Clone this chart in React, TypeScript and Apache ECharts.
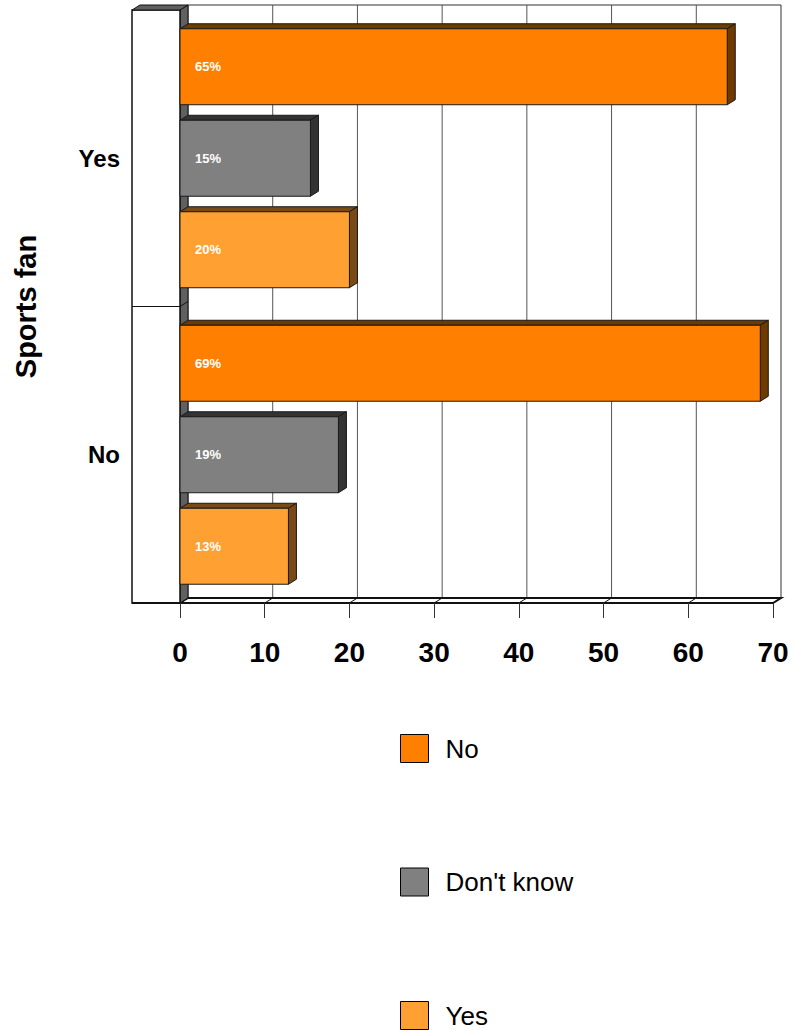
import React, { useEffect, useRef } from "react";
import * as echarts from "echarts";

// ---- data ----
const categories = ["Yes", "No"]; // Sports fan
const seriesNames = ["No", "Don't know", "Yes"];
const noValues = [64.6, 68.5];
const dontKnowValues = [15.4, 18.7];
const yesValues = [20.0, 12.8];
const xTickValues = [0, 10, 20, 30, 40, 50, 60, 70];

// ---- style ----
const FONT = '"Liberation Sans", Arial, sans-serif';
const FRONT = ["#FF8000", "#808080", "#FFA033"];
const SIDE = ["#6E3A00", "#333333", "#7A4A16"];
const GRID = { left: 180, top: 10, width: 593, height: 593 };
const DX = 8;
const DY = -5;
const BOX_W = 48;

const makeRender = (s: number) => (params: any, api: any) => {
  const cat = api.value(1);
  const val = api.value(0);
  const p0 = api.coord([0, cat]);
  const p1 = api.coord([val, cat]);
  const band = api.size([0, 1])[1];
  const h = band * 0.2563;
  const cy = p0[1] + (s - 1) * band * 0.3086;
  const y = cy - h / 2;
  const x0 = p0[0];
  const x1 = p1[0];
  const edge = "#1a1a1a";
  return {
    type: "group",
    children: [
      {
        type: "polygon",
        shape: { points: [[x0, y], [x1, y], [x1 + DX, y + DY], [x0 + DX, y + DY]] },
        style: { fill: SIDE[s], stroke: edge, lineWidth: 1 },
      },
      {
        type: "polygon",
        shape: { points: [[x1, y], [x1 + DX, y + DY], [x1 + DX, y + h + DY], [x1, y + h]] },
        style: { fill: SIDE[s], stroke: edge, lineWidth: 1 },
      },
      {
        type: "rect",
        shape: { x: x0, y: y, width: x1 - x0, height: h },
        style: { fill: FRONT[s], stroke: edge, lineWidth: 1 },
      },
      {
        type: "text",
        x: x0 + 15,
        y: cy,
        style: {
          text: Math.round(val) + "%",
          fill: "#ffffff",
          font: "bold 13px " + FONT,
          verticalAlign: "middle",
          align: "left",
        },
      },
    ],
  };
};

export default function App() {
  const ref = useRef<HTMLDivElement>(null);

  useEffect(() => {
    if (!ref.current) return;
    const chart = echarts.init(ref.current, undefined, { renderer: "svg" });
    const allValues = [noValues, dontKnowValues, yesValues];

    chart.setOption({
      animation: false,
      backgroundColor: "#ffffff",
      textStyle: { fontFamily: FONT },
      grid: { left: GRID.left, top: GRID.top, width: GRID.width, height: GRID.height, containLabel: false },
      xAxis: {
        type: "value",
        min: 0,
        max: 70,
        interval: 10,
        axisLine: { show: false },
        splitLine: { show: false },
        axisTick: { show: true, length: 15, lineStyle: { color: "#333", width: 1 } },
        axisLabel: {
          fontSize: 28,
          fontWeight: "bold",
          color: "#000",
          margin: 35,
          fontFamily: FONT,
        },
      },
      yAxis: {
        type: "category",
        data: categories,
        inverse: true,
        axisLine: { show: false },
        axisTick: { show: false },
        splitLine: { show: false },
        axisLabel: { fontSize: 24, fontWeight: "bold", color: "#000", margin: 60, fontFamily: FONT },
        name: "Sports fan",
        nameLocation: "middle",
        nameGap: 140,
        nameTextStyle: { fontSize: 29, fontWeight: "bold", color: "#000", fontFamily: FONT },
      },
      legend: {
        data: seriesNames,
        orient: "vertical",
        left: 400,
        top: 734,
        height: 400,
        padding: 0,
        itemWidth: 28,
        itemHeight: 28,
        itemGap: 104.5,
        icon: "rect",
        itemStyle: { borderColor: "#000", borderWidth: 1 },
        textStyle: { fontSize: 26, color: "#000", fontFamily: FONT, padding: [0, 0, 0, 12] },
      },
      series: seriesNames.map((name, s) => ({
        type: "custom",
        name,
        renderItem: makeRender(s),
        itemStyle: { color: FRONT[s] },
        encode: { x: 0, y: 1 },
        data: allValues[s].map((v, i) => [v, i]),
        z: 2,
      })),
    });

    // backdrop (walls, floor) built from the axis scale
    const px = (v: number) => chart.convertToPixel({ xAxisIndex: 0 }, v) as number;
    const L = GRID.left;
    const T = GRID.top;
    const B = GRID.top + GRID.height;
    const R = px(70);
    const mid = (T + B) / 2;
    const elems: any[] = [];
    // back wall
    elems.push({
      type: "rect",
      shape: { x: L + DX, y: T + DY, width: R - L, height: B - T },
      style: { fill: "#fff", stroke: "#333", lineWidth: 1 },
      z: 0,
    });
    xTickValues.slice(1, -1).forEach((v) => {
      const x = px(v) + DX;
      elems.push({
        type: "line",
        shape: { x1: x, y1: T + DY, x2: x, y2: B + DY },
        style: { stroke: "#555", lineWidth: 1 },
        z: 0,
      });
    });
    // floor strip
    elems.push({
      type: "polygon",
      shape: { points: [[L, B], [L + DX, B + DY], [R + DX, B + DY], [R, B]] },
      style: { fill: "#fff", stroke: "#111", lineWidth: 2 },
      z: 0,
    });
    xTickValues.forEach((v) => {
      const x = px(v);
      elems.push({
        type: "line",
        shape: { x1: x, y1: B, x2: x + DX, y2: B + DY },
        style: { stroke: "#111", lineWidth: 1 },
        z: 0,
      });
    });
    // left slab
    elems.push({
      type: "polygon",
      shape: { points: [[L, T], [L + DX, T + DY], [L + DX, B + DY], [L, B]] },
      style: { fill: "#606060", stroke: "#111", lineWidth: 1 },
      z: 0,
    });
    // left box
    elems.push({
      type: "rect",
      shape: { x: L - BOX_W, y: T, width: BOX_W, height: B - T },
      style: { fill: "#fff", stroke: "#111", lineWidth: 1.5 },
      z: 0,
    });
    elems.push({
      type: "polygon",
      shape: { points: [[L - BOX_W, T], [L, T], [L + DX, T + DY], [L - BOX_W + DX, T + DY]] },
      style: { fill: "#606060", stroke: "#111", lineWidth: 1 },
      z: 0,
    });
    elems.push({
      type: "polyline",
      shape: { points: [[L - BOX_W, mid], [L, mid], [L + DX, mid + DY]] },
      style: { stroke: "#111", lineWidth: 1, fill: null },
      z: 0,
    });
    elems.push({
      type: "line",
      shape: { x1: L - BOX_W, y1: B, x2: R, y2: B },
      style: { stroke: "#111", lineWidth: 2 },
      z: 0,
    });
    chart.setOption({ graphic: { elements: elems } });

    return () => chart.dispose();
  }, []);

  return (
    <div
      ref={ref}
      style={{ position: "fixed", left: 0, top: 0, width: 794, height: 1030, background: "#fff" }}
    />
  );
}
